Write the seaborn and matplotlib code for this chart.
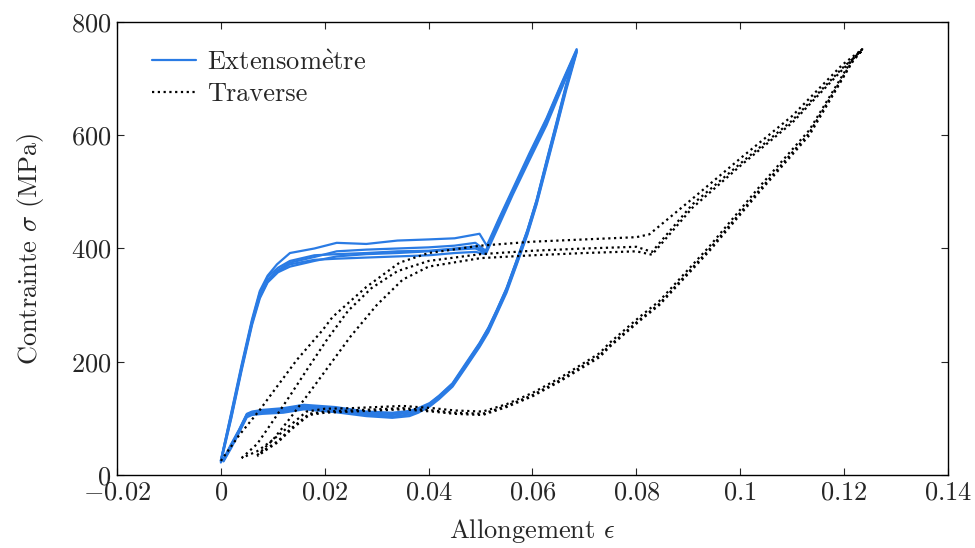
import pandas as pd
import numpy as np
import matplotlib
matplotlib.use("Agg")
import matplotlib.pyplot as plt
import seaborn as sns

# Extensometre cycles : strain (-) and stress (MPa), loading then unloading
ext1_eps = [0.000, 0.002, 0.004, 0.006, 0.0075, 0.009, 0.0108, 0.0133, 0.018, 0.0223, 0.028, 0.034, 0.040, 0.045, 0.0498, 0.0512,
            0.0535, 0.0562, 0.0594, 0.0627, 0.0655, 0.0685,
            0.0665, 0.0646, 0.0627, 0.0608, 0.059, 0.0569, 0.055, 0.0531, 0.0515, 0.0498, 0.047, 0.0446, 0.042, 0.0402,
            0.038, 0.0363, 0.033, 0.028, 0.022, 0.016, 0.012, 0.008, 0.006, 0.005, 0.0035, 0.002, 0.0005]
ext1_sig = [25, 110, 195, 275, 325, 352, 372, 392, 400, 410, 408, 414, 416, 418, 426, 405,
            452, 505, 568, 630, 690, 752,
            690, 622, 555, 486, 432, 378, 330, 291, 260, 233, 195, 162, 140, 127,
            118, 113, 110, 112, 120, 124, 118, 115, 112, 108, 80, 55, 28]

ext2_eps = [0.000, 0.002, 0.004, 0.006, 0.0075, 0.009, 0.011, 0.0133, 0.018, 0.0223, 0.028, 0.034, 0.040, 0.045, 0.049, 0.051,
            0.0535, 0.0562, 0.0594, 0.0627, 0.0655, 0.0685,
            0.0665, 0.0646, 0.0627, 0.0608, 0.059, 0.0569, 0.055, 0.0531, 0.0515, 0.0498, 0.047, 0.0446, 0.042, 0.0402,
            0.038, 0.0363, 0.033, 0.028, 0.022, 0.016, 0.012, 0.008, 0.006, 0.005, 0.0035, 0.002, 0.0005]
ext2_sig = [25, 105, 190, 270, 318, 345, 362, 375, 385, 395, 398, 400, 402, 405, 410, 396,
            450, 502, 565, 628, 688, 750,
            686, 618, 552, 484, 430, 376, 328, 290, 258, 230, 192, 160, 138, 125,
            115, 110, 106, 108, 116, 120, 115, 112, 110, 106, 78, 52, 26]

ext3_eps = [0.000, 0.002, 0.004, 0.006, 0.0075, 0.009, 0.011, 0.0133, 0.018, 0.0223, 0.028, 0.034, 0.040, 0.045, 0.049, 0.051,
            0.0535, 0.0562, 0.0594, 0.0627, 0.0655, 0.0685,
            0.0665, 0.0646, 0.0627, 0.0608, 0.059, 0.0569, 0.055, 0.0531, 0.0515, 0.0498, 0.047, 0.0446, 0.042, 0.0402,
            0.038, 0.0363, 0.033, 0.028, 0.022, 0.016, 0.012, 0.008, 0.006, 0.005, 0.0035, 0.002, 0.0005]
ext3_sig = [22, 100, 185, 265, 312, 340, 358, 368, 378, 386, 390, 392, 395, 398, 400, 392,
            445, 498, 560, 622, 684, 748,
            684, 614, 548, 480, 426, 372, 325, 286, 255, 228, 190, 158, 136, 122,
            112, 107, 103, 106, 113, 118, 112, 110, 108, 104, 76, 50, 25]

ext4_eps = [0.000, 0.002, 0.004, 0.006, 0.0075, 0.009, 0.011, 0.0133, 0.018, 0.0223, 0.028, 0.034, 0.040, 0.045, 0.049, 0.051,
            0.0535, 0.0562, 0.0594, 0.0627, 0.0655, 0.0685,
            0.0665, 0.0646, 0.0627, 0.0608, 0.059, 0.0569, 0.055, 0.0531, 0.0515, 0.0498, 0.047, 0.0446, 0.042, 0.0402,
            0.038, 0.0363, 0.033, 0.028, 0.022, 0.016, 0.012, 0.008, 0.006, 0.005, 0.0035, 0.002, 0.0005]
ext4_sig = [24, 102, 188, 268, 315, 342, 360, 372, 380, 382, 384, 386, 388, 392, 394, 390,
            440, 495, 556, 618, 680, 746,
            680, 612, 545, 478, 424, 370, 322, 284, 252, 226, 188, 156, 134, 121,
            110, 104, 101, 104, 111, 116, 110, 108, 106, 102, 75, 48, 24]

ext5_eps = [0.000, 0.002, 0.004, 0.006, 0.0075, 0.009, 0.011, 0.0133, 0.018, 0.0223, 0.028, 0.034, 0.040, 0.045, 0.049, 0.051,
            0.0535, 0.0562, 0.0594, 0.0627, 0.0655, 0.0685,
            0.0665, 0.0646, 0.0627, 0.0608, 0.059, 0.0569, 0.055, 0.0531, 0.0515, 0.0498, 0.047, 0.0446, 0.042, 0.0402,
            0.038, 0.0363, 0.033, 0.028, 0.022, 0.016, 0.012, 0.008, 0.006, 0.005, 0.0035, 0.002, 0.0005]
ext5_sig = [26, 108, 192, 272, 322, 350, 366, 378, 388, 390, 392, 395, 396, 400, 404, 394,
            448, 500, 562, 625, 686, 750,
            688, 620, 553, 485, 431, 377, 329, 289, 259, 232, 193, 161, 139, 126,
            116, 112, 108, 110, 118, 121, 116, 113, 111, 107, 79, 53, 27]

# Traverse cycles : strain from crosshead displacement
trav1_eps = [0.000, 0.0035, 0.0075, 0.0095, 0.0146, 0.0196, 0.0215, 0.028, 0.0344, 0.040, 0.050, 0.060, 0.070, 0.080, 0.0825,
             0.0908, 0.1004, 0.110, 0.1196, 0.1235,
             0.1215, 0.1133, 0.1037, 0.094, 0.0844, 0.0806, 0.0748, 0.0729, 0.0652, 0.060, 0.055, 0.0504, 0.045, 0.0408,
             0.035, 0.030, 0.025, 0.020, 0.0165, 0.013, 0.010, 0.007, 0.004]
trav1_sig = [25, 70, 115, 140, 203, 256, 279, 332, 375, 392, 405, 412, 416, 420, 425,
             488, 562, 634, 724, 752,
             733, 609, 509, 403, 307, 279, 233, 215, 171, 145, 125, 112, 114, 118,
             122, 120, 118, 117, 112, 85, 62, 42, 30]

trav2_eps = [0.004, 0.007, 0.010, 0.0133, 0.0165, 0.0205, 0.0245, 0.029, 0.034, 0.040, 0.050, 0.060, 0.070, 0.080, 0.083,
             0.0908, 0.1004, 0.110, 0.1196, 0.1235,
             0.1215, 0.1133, 0.1037, 0.094, 0.0844, 0.0806, 0.0748, 0.0729, 0.0652, 0.060, 0.055, 0.0504, 0.045, 0.0408,
             0.035, 0.030, 0.025, 0.020, 0.017, 0.0135, 0.011, 0.009, 0.007]
trav2_sig = [30, 55, 95, 140, 185, 240, 290, 330, 360, 378, 390, 396, 400, 403, 394,
             478, 553, 626, 718, 750,
             730, 604, 503, 398, 302, 274, 228, 211, 167, 141, 122, 108, 110, 114,
             118, 116, 114, 112, 108, 82, 60, 48, 35]

trav3_eps = [0.007, 0.010, 0.0133, 0.017, 0.021, 0.025, 0.030, 0.035, 0.040, 0.050, 0.060, 0.070, 0.080, 0.083,
             0.0908, 0.1004, 0.110, 0.1196, 0.1235,
             0.1215, 0.1133, 0.1037, 0.094, 0.0844, 0.0806, 0.0748, 0.0729, 0.0652, 0.060, 0.055, 0.0504, 0.045, 0.0408,
             0.035, 0.030, 0.025, 0.020, 0.017, 0.0135, 0.011, 0.009, 0.007]
trav3_sig = [35, 62, 100, 145, 195, 245, 300, 345, 368, 383, 388, 392, 395, 389,
             472, 549, 622, 715, 752,
             728, 600, 500, 395, 300, 272, 226, 208, 165, 139, 120, 106, 108, 112,
             116, 114, 112, 110, 106, 80, 58, 46, 33]

ext_cycles = [(ext1_eps, ext1_sig), (ext2_eps, ext2_sig), (ext3_eps, ext3_sig),
              (ext4_eps, ext4_sig), (ext5_eps, ext5_sig)]
trav_cycles = [(trav1_eps, trav1_sig), (trav2_eps, trav2_sig), (trav3_eps, trav3_sig)]

x_ticks = [-0.02, 0, 0.02, 0.04, 0.06, 0.08, 0.1, 0.12, 0.14]
x_labels = ["$-0.02$", "$0$", "$0.02$", "$0.04$", "$0.06$", "$0.08$", "$0.1$", "$0.12$", "$0.14$"]
y_ticks = [0, 200, 400, 600, 800]
y_labels = ["$0$", "$200$", "$400$", "$600$", "$800$"]

frames = []
for name, cycles in [("Extensomètre", ext_cycles), ("Traverse", trav_cycles)]:
    for k, (e, s) in enumerate(cycles):
        frames.append(pd.DataFrame({"eps": e, "sig": s, "mesure": name, "cycle": f"{name}_{k}"}))
df = pd.concat(frames, ignore_index=True)

sns.set_style("ticks")
plt.rcParams["font.family"] = ["cmr10", "DejaVu Serif"]
plt.rcParams["mathtext.fontset"] = "cm"
plt.rcParams["axes.formatter.use_mathtext"] = True

fs = 19

fig = plt.figure(figsize=(9.75, 5.48), dpi=100)
ax = fig.add_axes([0.12, 0.1332, 0.8523, 0.8267])

sns.lineplot(data=df, x="eps", y="sig", hue="mesure", style="mesure", units="cycle",
             estimator=None, sort=False, ax=ax,
             palette={"Extensomètre": "#2a7be4", "Traverse": "black"},
             dashes={"Extensomètre": "", "Traverse": (1, 1.6)},
             linewidth=1.6)

ax.set_xlim(-0.02, 0.14)
ax.set_ylim(0, 800)
ax.set_xticks(x_ticks)
ax.set_xticklabels(x_labels)
ax.set_yticks(y_ticks)
ax.set_yticklabels(y_labels)
ax.tick_params(direction="in", top=True, right=True, length=5, width=0.8, labelsize=fs, pad=4)
for sp in ax.spines.values():
    sp.set_linewidth(1.0)
    sp.set_color("black")

ax.set_xlabel(r"Allongement $\epsilon$", fontsize=fs, labelpad=9)
ax.set_ylabel(r"Contrainte $\sigma$ (MPa)", fontsize=fs, labelpad=18)

sns.move_legend(ax, "upper left", bbox_to_anchor=(0.013, 0.99), frameon=False, title=None, fontsize=fs,
                handlelength=1.7, handletextpad=0.4, labelspacing=0.3)
leg = ax.get_legend()
leg.get_texts()[0].set_text(r"Extensom$\mathrm{\grave{e}}$tre")

fig.savefig("out.png", dpi=100)
